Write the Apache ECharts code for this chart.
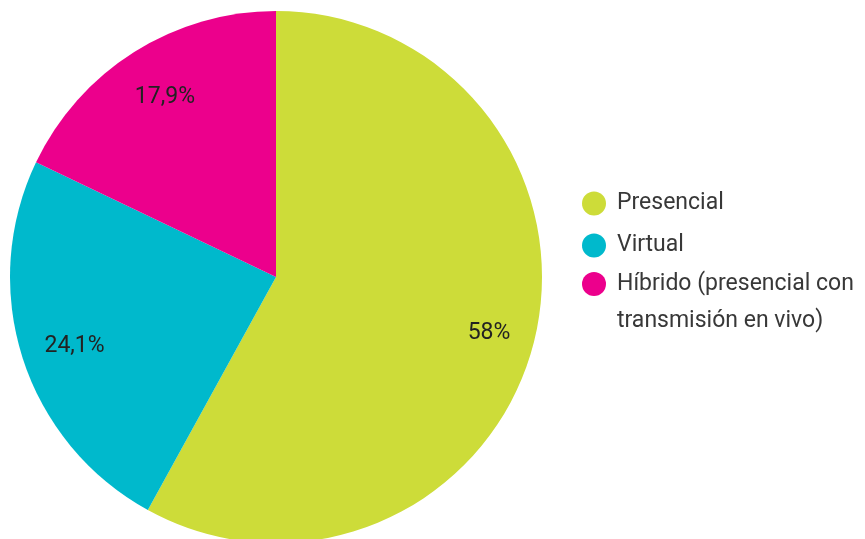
<!DOCTYPE html>
<html>
<head>
<meta charset="utf-8">
<script src="https://cdn.jsdelivr.net/npm/echarts@6/dist/echarts.min.js"></script>
<style>
  html, body { margin: 0; padding: 0; background: #fff; }
  #chart { width: 865px; height: 539px; }
</style>
</head>
<body>
<div id="chart"></div>
<script>
// Modalidad de participación
const categories = ['Presencial', 'Virtual', 'Híbrido (presencial con\ntransmisión en vivo)'];
const values = [58, 24.1, 17.9];
const colors = ['#CDDC39', '#00B9CC', '#EC008C'];

const pieData = categories.map((name, i) => ({ name: name, value: values[i] }));
const fmt = v => String(v).replace('.', ',') + '%';

const R = 266;
const CENTER = [276, 277];
const TEXT = '#383838';
const FONT = 'Roboto';

const legendText = {
  color: TEXT,
  fontFamily: FONT,
  fontSize: 23,
  lineHeight: 37,
  padding: [0, 0, 0, 6]
};

const chart = echarts.init(document.getElementById('chart'), null, { renderer: 'canvas' });
chart.setOption({
  animation: false,
  color: colors,
  legend: [
    {
      data: categories.slice(0, 2),
      orient: 'vertical',
      left: 582,
      top: 185,
      padding: 0,
      icon: 'circle',
      itemWidth: 24,
      itemHeight: 24,
      itemGap: 5,
      selectedMode: false,
      textStyle: legendText
    },
    {
      data: categories.slice(2),
      orient: 'vertical',
      left: 582,
      top: 228.5,
      padding: 0,
      icon: 'circle',
      itemWidth: 24,
      itemHeight: 24,
      selectedMode: false,
      // the empty first line keeps the icon level with the first text line
      formatter: name => '\n' + name,
      textStyle: legendText
    }
  ],
  series: [
    {
      type: 'pie',
      center: CENTER,
      radius: [0, R],
      startAngle: 90,
      clockwise: true,
      silent: true,
      data: pieData,
      label: { show: false },
      labelLine: { show: false },
      itemStyle: { borderWidth: 0 }
    },
    {
      // transparent ring that carries the percentage labels at ~0.8 of the radius
      type: 'pie',
      center: CENTER,
      radius: [R * 0.6, R],
      startAngle: 90,
      clockwise: true,
      silent: true,
      data: pieData,
      itemStyle: { color: 'rgba(0,0,0,0)', borderWidth: 0 },
      label: {
        show: true,
        position: 'inside',
        formatter: p => fmt(p.value),
        color: '#222222',
        fontFamily: FONT,
        fontSize: 23,
        offset: [4, 3]
      },
      labelLine: { show: false }
    }
  ]
});
</script>
</body>
</html>
